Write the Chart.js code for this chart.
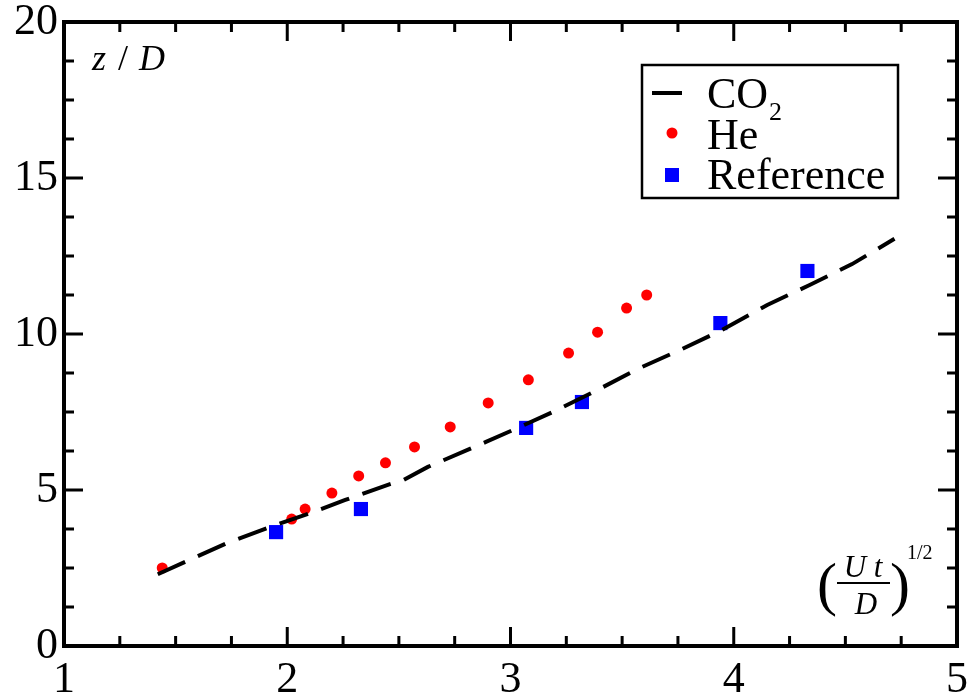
<!DOCTYPE html>
<html>
<head>
<meta charset="utf-8">
<script src="https://cdn.jsdelivr.net/npm/chart.js@4.4.1/dist/chart.umd.min.js"></script>
<style>
  html, body { margin: 0; padding: 0; background: #fff; }
  #chart { display: block; }
</style>
</head>
<body>
<canvas id="chart" width="971" height="692"></canvas>
<script>
// data
const co2X = [1.42, 1.73, 1.96, 2.08, 2.26, 2.46, 2.52, 2.63, 2.89, 3.01, 3.19, 3.38, 3.57, 3.76, 3.94, 4.15, 4.34, 4.53, 4.72];
const co2Y = [2.3, 3.3, 3.91, 4.2, 4.68, 5.19, 5.32, 5.74, 6.54, 6.92, 7.5, 8.17, 8.88, 9.49, 10.1, 10.93, 11.57, 12.24, 13.05];

const heX = [1.44, 2.02, 2.08, 2.20, 2.32, 2.44, 2.57, 2.73, 2.90, 3.08, 3.26, 3.39, 3.52, 3.61];
const heY = [2.5, 4.07, 4.39, 4.9, 5.45, 5.87, 6.38, 7.02, 7.79, 8.53, 9.39, 10.06, 10.83, 11.25];

const refX = [1.95, 2.33, 3.07, 3.32, 3.94, 4.33];
const refY = [3.65, 4.39, 6.99, 7.82, 10.35, 12.02];

const xTicks = [1, 2, 3, 4, 5];
const yTicks = [0, 5, 10, 15, 20];
const seriesNames = ['CO', 'He', 'Reference'];

const SERIF = '"Liberation Serif", "Times New Roman", serif';

function pts(xs, ys) {
  return xs.map((x, i) => ({ x: x, y: ys[i] }));
}

// frame, inward ticks (major + 3 minor), axis titles, legend
const framePlugin = {
  id: 'frame',
  afterDraw(chart) {
    const ctx = chart.ctx;
    const a = chart.chartArea;
    const xs = chart.scales.x, ys = chart.scales.y;
    ctx.save();
    ctx.strokeStyle = '#000';
    ctx.lineCap = 'butt';

    // ticks
    ctx.lineWidth = 3;
    const major = 19, minor = 10;
    const tickX = (v, len) => {
      const p = xs.getPixelForValue(v);
      ctx.beginPath();
      ctx.moveTo(p, a.bottom); ctx.lineTo(p, a.bottom - len);
      ctx.moveTo(p, a.top); ctx.lineTo(p, a.top + len);
      ctx.stroke();
    };
    const tickY = (v, len) => {
      const p = ys.getPixelForValue(v);
      ctx.beginPath();
      ctx.moveTo(a.left, p); ctx.lineTo(a.left + len, p);
      ctx.moveTo(a.right, p); ctx.lineTo(a.right - len, p);
      ctx.stroke();
    };
    for (let i = 0; i < xTicks.length; i++) {
      tickX(xTicks[i], major);
      if (i < xTicks.length - 1) {
        const step = (xTicks[i + 1] - xTicks[i]) / 4;
        for (let k = 1; k < 4; k++) tickX(xTicks[i] + k * step, minor);
      }
    }
    for (let i = 0; i < yTicks.length; i++) {
      tickY(yTicks[i], major);
      if (i < yTicks.length - 1) {
        const step = (yTicks[i + 1] - yTicks[i]) / 4;
        for (let k = 1; k < 4; k++) tickY(yTicks[i] + k * step, minor);
      }
    }

    // frame
    ctx.lineWidth = 4;
    ctx.strokeRect(a.left, a.top, a.right - a.left, a.bottom - a.top);

    // y title
    ctx.fillStyle = '#000';
    ctx.textBaseline = 'alphabetic';
    ctx.textAlign = 'left';
    ctx.font = 'italic 36px ' + SERIF;
    ctx.fillText('z', 92, 70);
    ctx.font = '36px ' + SERIF;
    ctx.fillText('/', 118, 70);
    ctx.font = 'italic 36px ' + SERIF;
    ctx.fillText('D', 139, 70);

    // x title (Ut/D)^1/2
    ctx.font = '60px ' + SERIF;
    ctx.fillText('(', 817, 604);
    ctx.fillText(')', 890, 604);
    ctx.font = 'italic 31px ' + SERIF;
    ctx.textAlign = 'center';
    ctx.fillText('U t', 863, 577);
    ctx.fillText('D', 866, 614);
    ctx.lineWidth = 2;
    ctx.beginPath();
    ctx.moveTo(837, 583); ctx.lineTo(890, 583);
    ctx.stroke();
    ctx.textAlign = 'left';
    ctx.font = '20px ' + SERIF;
    ctx.fillText('1/2', 907, 559);

    // legend
    const ds = chart.data.datasets;
    ctx.lineWidth = 2.5;
    ctx.strokeRect(642, 65, 256, 133);
    ctx.font = '44px ' + SERIF;
    ctx.fillStyle = '#000';
    ctx.fillText(seriesNames[0], 707, 108);
    ctx.font = '26px ' + SERIF;
    ctx.fillText('2', 769, 120);
    ctx.font = '44px ' + SERIF;
    ctx.fillText(seriesNames[1], 707, 149);
    ctx.fillText(seriesNames[2], 707, 189);
    ctx.strokeStyle = ds[0].borderColor;
    ctx.lineWidth = 4;
    ctx.beginPath();
    ctx.moveTo(652, 93); ctx.lineTo(682, 93);
    ctx.stroke();
    ctx.fillStyle = ds[1].backgroundColor;
    ctx.beginPath();
    ctx.arc(672, 133, 5.5, 0, Math.PI * 2);
    ctx.fill();
    ctx.fillStyle = ds[2].backgroundColor;
    ctx.fillRect(665, 168, 14, 14);
    ctx.restore();
  }
};

new Chart(document.getElementById('chart'), {
  type: 'scatter',
  data: {
    datasets: [
      {
        label: 'CO2',
        type: 'line',
        data: pts(co2X, co2Y),
        showLine: true,
        borderColor: '#000',
        borderWidth: 4,
        borderDash: [30, 14],
        pointRadius: 0,
        tension: 0,
        fill: false
      },
      {
        label: 'He',
        data: pts(heX, heY),
        backgroundColor: '#ff0000',
        borderWidth: 0,
        pointRadius: 5.5,
        pointStyle: 'circle'
      },
      {
        label: 'Reference',
        data: pts(refX, refY),
        backgroundColor: '#0000ff',
        borderWidth: 0,
        pointRadius: 10,
        pointStyle: 'rect'
      }
    ]
  },
  options: {
    responsive: false,
    animation: false,
    devicePixelRatio: 1,
    layout: { padding: { top: 22, right: 14, left: 0, bottom: 0 } },
    plugins: {
      legend: { display: false },
      tooltip: { enabled: false }
    },
    scales: {
      x: {
        type: 'linear',
        min: 1, max: 5,
        afterBuildTicks: s => { s.ticks = xTicks.map(v => ({ value: v })); },
        afterFit: s => { s.height = 46; s.paddingLeft = 0; s.paddingRight = 0; },
        grid: { display: false, drawTicks: false },
        border: { display: false },
        ticks: {
          color: '#000',
          padding: 8,
          maxRotation: 0,
          font: { family: SERIF, size: 44 }
        }
      },
      y: {
        type: 'linear',
        min: 0, max: 20,
        afterBuildTicks: s => { s.ticks = yTicks.map(v => ({ value: v })); },
        afterFit: s => { s.width = 64; s.paddingTop = 0; s.paddingBottom = 0; },
        grid: { display: false, drawTicks: false },
        border: { display: false },
        ticks: {
          color: '#000',
          padding: 6,
          font: { family: SERIF, size: 44 }
        }
      }
    }
  },
  plugins: [framePlugin]
});
</script>
</body>
</html>
